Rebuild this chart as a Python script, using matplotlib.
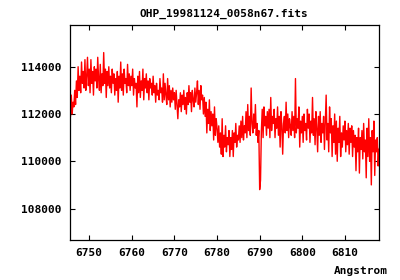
import numpy as np
import matplotlib
matplotlib.use("Agg")
import matplotlib.pyplot as plt

# spectrum sampling (like a FITS header: start wavelength + step)
wave_start = 6745.4
wave_step = 0.2

# flux in units of 1000 counts (10 samples = 2 Angstrom per row)
flux_k = [
    112.2, 111.9, 112.8, 112.0, 112.5, 112.3, 113.0, 112.4, 113.4, 112.7,
    114.0, 113.0, 113.6, 112.9, 114.2, 113.3, 113.8, 113.1, 114.3, 113.0,
    113.6, 114.4, 113.2, 113.9, 112.9, 114.3, 113.3, 113.8, 112.8, 114.0,
    113.4, 113.9, 113.1, 114.4, 113.5, 113.0, 114.1, 112.9, 113.7, 113.2,
    114.6, 113.3, 113.9, 112.7, 113.8, 113.2, 114.0, 113.1, 113.6, 112.9,
    113.9, 113.3, 113.7, 112.8, 113.5, 113.0, 113.8, 112.5, 113.6, 113.1,
    114.2, 113.0, 113.7, 112.8, 113.9, 113.3, 113.5, 112.9, 114.1, 113.2,
    113.7, 113.0, 113.6, 113.2, 113.9, 112.8, 113.5, 113.1, 113.3, 112.3,
    113.6, 112.9, 113.8, 112.7, 113.4, 113.0, 113.9, 112.6, 113.5, 113.1,
    113.7, 112.9, 113.4, 112.6, 113.5, 113.1, 113.3, 112.8, 113.6, 112.9,
    113.2, 112.5, 113.3, 112.8, 113.0, 112.6, 113.5, 112.9, 113.1, 112.5,
    113.7, 112.6, 113.3, 112.8, 112.4, 113.5, 112.6, 113.2, 112.3, 113.0,
    112.5, 113.1, 112.6, 112.9, 112.2, 113.0, 112.4, 111.8, 112.6, 112.3,
    112.9, 112.1, 112.8, 112.4, 113.0, 112.2, 112.7, 112.0, 112.9, 112.4,
    113.2, 112.5, 112.9, 112.1, 113.0, 112.6, 112.3, 113.1, 112.5, 112.9,
    113.4, 112.4, 113.0, 112.2, 113.2, 112.6, 112.8, 112.0, 112.7, 111.9,
    112.5, 111.2, 112.2, 111.6, 112.6, 111.3, 112.1, 111.5, 112.0, 110.9,
    112.3, 111.1, 111.8, 111.4, 110.8, 111.5, 110.6, 111.2, 110.3, 111.8,
    110.2, 111.1, 110.6, 111.5, 110.4, 111.0, 110.7, 111.3, 110.2, 111.0,
    110.5, 111.3, 110.2, 111.2, 110.8, 111.6, 110.6, 111.1, 110.9, 111.5,
    110.8, 111.7, 111.0, 111.9, 110.9, 111.5, 111.2, 112.1, 111.0, 112.4,
    111.3, 111.9, 111.1, 113.1, 111.6, 111.2, 112.0, 111.4, 112.4, 111.1,
    111.6, 110.8, 111.3, 108.8, 109.2, 111.3, 112.2, 111.0, 112.3, 111.5,
    111.9, 111.1, 112.1, 111.4, 112.2, 111.0, 112.7, 111.3, 111.9, 111.6,
    112.2, 111.0, 111.8, 111.4, 112.3, 111.1, 111.9, 110.6, 112.1, 111.5,
    110.3, 111.6, 111.9, 111.2, 112.5, 111.3, 112.0, 111.0, 111.8, 111.5,
    111.1, 112.1, 111.3, 111.9, 111.0, 113.5, 111.2, 111.8, 111.4, 112.3,
    110.6, 111.7, 111.2, 111.9, 110.8, 112.0, 111.3, 111.6, 110.9, 112.2,
    111.4, 112.0, 110.8, 111.7, 111.2, 112.7, 111.1, 111.8, 110.7, 112.1,
    111.4, 110.4, 111.9, 111.1, 112.1, 110.8, 111.6, 111.2, 111.9, 110.5,
    111.7, 112.8, 110.9, 111.6, 110.4, 112.3, 111.2, 111.8, 110.2, 111.5,
    110.8, 112.0, 110.3, 111.7, 110.0, 111.4, 110.8, 111.9, 110.2, 111.2,
    110.6, 111.5, 110.9, 111.7, 110.4, 111.3, 110.7, 111.6, 110.3, 111.4,
    110.8, 111.5, 110.2, 111.3, 110.6, 111.1, 109.6, 111.0, 110.4, 111.4,
    109.5, 111.0, 110.5, 111.3, 110.1, 111.6, 110.4, 110.9, 109.3, 111.4,
    110.2, 111.8, 110.0, 111.0, 109.0, 111.3, 110.4, 111.7, 109.4, 110.9,
    110.4, 111.0, 109.8, 110.5, 110.6,
]

x_ticks = [6750, 6760, 6770, 6780, 6790, 6800, 6810]
y_ticks = [108000, 110000, 112000, 114000]
title = "OHP_19981124_0058n67.fits"
xlabel = "Angstrom"

flux = np.array(flux_k) * 1000
wave = wave_start + wave_step * np.arange(len(flux))

plt.rcParams['font.family'] = ['DejaVu Sans Mono']
plt.rcParams['font.weight'] = 'bold'
plt.rcParams['font.size'] = 8

fig = plt.figure(figsize=(4, 2.8), dpi=100)
ax = fig.add_axes([0.174, 0.143, 0.7735, 0.768])
ax.plot(wave, flux, color='#ff0000', lw=1.0)

ax.set_xlim(6745.4, 6818.0)
ax.set_ylim(106670, 115770)
ax.set_xticks(x_ticks)
ax.set_yticks(y_ticks)
ax.set_xticklabels([str(v) for v in x_ticks], fontweight='bold')
ax.set_yticklabels([str(v) for v in y_ticks], fontweight='bold')
ax.tick_params(direction='in', length=3.5, width=0.8, top=True, right=True, pad=6)
for s in ax.spines.values():
    s.set_linewidth(0.9)

fig.text(0.56, 0.95, title, ha='center', va='center', fontweight='bold')
fig.text(0.97, 0.032, xlabel, ha='right', va='center', fontweight='bold')

fig.savefig("out.png", dpi=100)
